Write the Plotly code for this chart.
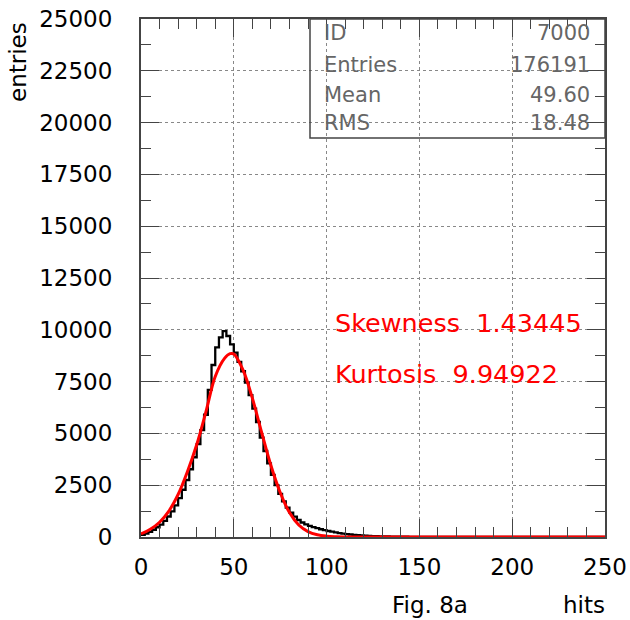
import numpy as np
import plotly.graph_objects as go

# histogram "hits", 125 bins of width 2 from 0 to 250 (ID 7000)
bin_width = 2
hits_counts = [
    100, 170, 250, 350, 470, 600, 780, 990, 1240, 1530,
    1880, 2280, 2750, 3270, 3850, 4480, 5160, 5900, 7100, 8300,
    9150, 9630, 9940, 9700, 9300, 8900, 8450, 8000, 7450, 6850,
    6200, 5550, 4800, 4150, 3550, 3000, 2500, 2080, 1720, 1420,
    1180, 980, 820, 700, 610, 540, 480, 425, 375, 330,
    290, 255, 220, 190, 165, 140, 120, 102, 88, 75,
    64, 55, 47, 40, 34, 29, 25, 21, 18, 16,
    14, 12, 10, 9, 8, 7, 6, 5, 5, 4,
    4, 4, 3, 3, 3, 2, 2, 2, 2, 2,
    2, 1, 1, 1, 1, 1, 1, 1, 1, 1,
    1, 1, 1, 1, 1, 0, 0, 1, 0, 0,
    1, 0, 0, 0, 0, 1, 0, 0, 0, 0,
    0, 0, 0, 0, 0,
]

# fitted curve (red)
fit_x = [0, 5, 10, 15, 20, 25, 30, 35, 40, 45, 48, 50, 55, 60, 65, 70,
         75, 80, 85, 90, 95, 100, 105, 110, 120, 150, 200, 250]
fit_y = [145, 370, 710, 1250, 2050, 3150, 4450, 6050, 7750, 8620, 8850, 8830,
         8050, 6700, 5050, 3450, 2150, 1180, 580, 260, 105, 40, 14, 4, 0, 0, 0, 0]

stats_labels = ["ID", "Entries", "Mean", "RMS"]
stats_values = ["7000", "176191", "49.60", "18.48"]
skewness = "1.43445"
kurtosis = "9.94922"

L, R, T, B = 141, 605, 19, 537   # plot frame in window pixels
W, H = 630, 620


def px(x):
    return (x - L) / (R - L)


def py(y):
    return (B - y) / (B - T)


edges = np.arange(0, 250, bin_width)
step_x = list(edges) + [250]
step_y = hits_counts + [hits_counts[-1]]

fig = go.Figure()
fig.add_trace(go.Scatter(
    x=step_x, y=step_y, mode="lines", line_shape="hv",
    line=dict(color="black", width=2.3), showlegend=False,
))
fig.add_trace(go.Scatter(
    x=fit_x, y=fit_y, mode="lines", line_shape="spline",
    line=dict(color="#ff0000", width=3), showlegend=False,
))

axis_font = dict(family="DejaVu Sans", size=23, color="black")
common = dict(
    showline=True, linecolor="#444", linewidth=2, mirror="ticks",
    ticks="inside", ticklen=18, tickcolor="#444", tickwidth=1,
    showgrid=True, gridcolor="#888", griddash="dot", gridwidth=1,
    zeroline=False, tickfont=axis_font, tickformat="d", automargin=False,
    ticklabeloverflow="allow",
)
fig.update_xaxes(range=[0, 250], dtick=50, ticklabelstandoff=8,
                 minor=dict(ticks="inside", ticklen=10, dtick=10,
                            tickcolor="#444", showgrid=False),
                 **common)
fig.update_yaxes(range=[0, 25000], dtick=2500, ticklabelstandoff=22,
                 minor=dict(ticks="inside", ticklen=10, dtick=1250,
                            tickcolor="#444", showgrid=False),
                 **common)

# statistics box
fig.add_shape(type="rect", xref="paper", yref="paper",
              x0=px(310), x1=1, y0=py(138), y1=1,
              line=dict(color="#444", width=1.5))
rows_py = [33, 65, 95, 123]
for lab, val, ry in zip(stats_labels, stats_values, rows_py):
    fig.add_annotation(x=px(322), y=py(ry), xref="paper", yref="paper",
                       text=lab, showarrow=False, xanchor="left", yanchor="middle",
                       font=dict(family="DejaVu Sans", size=21, color="#666"))
    fig.add_annotation(x=px(592), y=py(ry), xref="paper", yref="paper",
                       text=val, showarrow=False, xanchor="right", yanchor="middle",
                       font=dict(family="DejaVu Sans", size=21, color="#666"))

red_font = dict(family="DejaVu Sans", size=25.5, color="#ff0000")
fig.add_annotation(x=px(333), y=py(323), xref="paper", yref="paper",
                   text="Skewness  " + skewness, showarrow=False,
                   xanchor="left", yanchor="middle", font=red_font)
fig.add_annotation(x=px(333), y=py(374), xref="paper", yref="paper",
                   text="Kurtosis  " + kurtosis, showarrow=False,
                   xanchor="left", yanchor="middle", font=red_font)

# axis titles as annotations
fig.add_annotation(x=px(18), y=py(62), xref="paper", yref="paper",
                   text="entries", textangle=-90, showarrow=False,
                   xanchor="center", yanchor="middle", font=axis_font)
fig.add_annotation(x=px(430), y=py(605), xref="paper", yref="paper",
                   text="Fig. 8a", showarrow=False,
                   xanchor="center", yanchor="middle", font=axis_font)
fig.add_annotation(x=px(584), y=py(605), xref="paper", yref="paper",
                   text="hits", showarrow=False,
                   xanchor="center", yanchor="middle", font=axis_font)

fig.update_layout(
    width=W, height=H,
    margin=dict(l=L, r=W - R, t=T, b=H - B),
    paper_bgcolor="white", plot_bgcolor="white",
    showlegend=False,
)

# drop the default 8px page margin so the figure sits in the window corner
fig.write_html("out.html", config={"displayModeBar": False},
               post_script="document.body.style.margin='0';")
